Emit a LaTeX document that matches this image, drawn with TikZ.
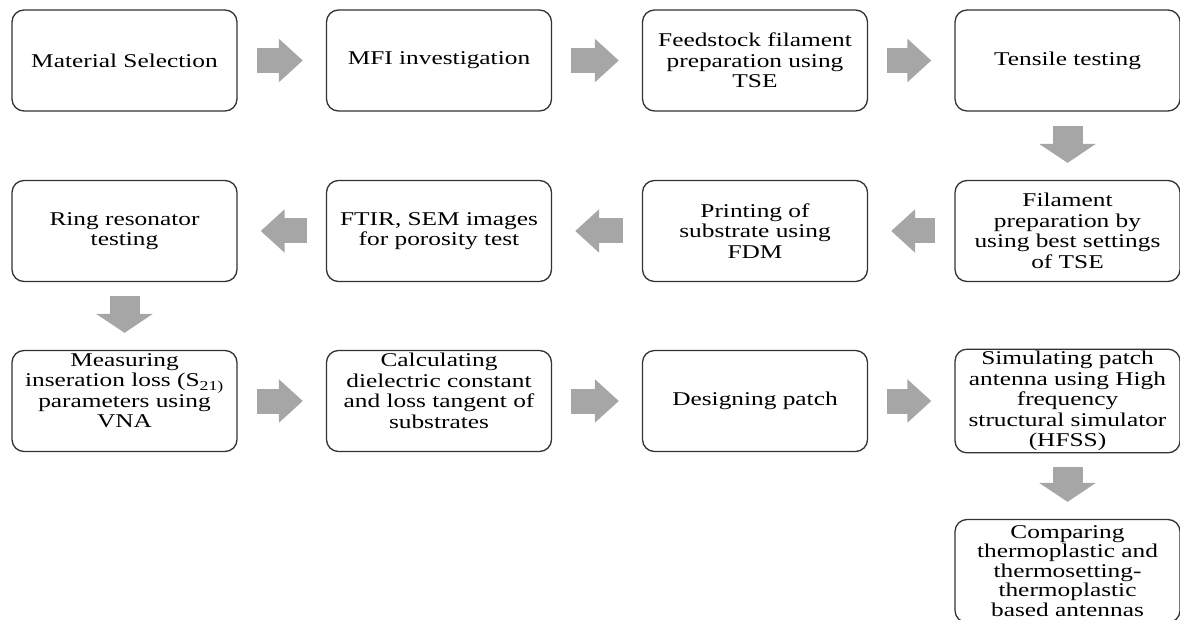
\documentclass[tikz,border=0pt]{standalone}
\usepackage{fontspec}
\setmainfont{Liberation Serif}[FakeStretch=1.3]
\usetikzlibrary{arrows.meta}
\definecolor{arrowgray}{HTML}{A6A6A6}
\definecolor{boxline}{HTML}{333333}
\tikzset{
  stepbox/.style={draw=boxline, line width=1.3pt, rounded corners=12pt, fill=white,
    minimum width=225pt, minimum height=101pt, align=center, inner sep=2pt,
    font=\fontsize{19.5}{20.5}\selectfont},
  hflow/.style={draw=arrowgray, line width=25pt, line cap=butt,
    -{Triangle[width=42pt,length=24pt]}, shorten <=19pt, shorten >=23pt},
  vflow/.style={draw=arrowgray, line width=30pt, line cap=butt,
    -{Triangle[width=56pt,length=19pt]}, shorten <=14pt, shorten >=17pt}
}
\begin{document}
\begin{tikzpicture}[x=1pt,y=-1pt]
\useasboundingbox (0,0) rectangle (1180,620);
% row 1
\node[stepbox] (b1) at (124.5,60.5) {Material Selection};
\node[stepbox] (b2) at (439,60.5) {MFI investigation};
\node[stepbox] (b3) at (755,60.5) {Feedstock filament\\preparation using\\TSE};
\node[stepbox] (b4) at (1067.5,60.5) {Tensile testing};
% row 2
\node[stepbox] (b5) at (1067.5,231) {Filament\\preparation by\\using best settings\\of TSE};
\node[stepbox] (b6) at (755,231) {Printing of\\substrate using\\FDM};
\node[stepbox] (b7) at (439,231) {FTIR, SEM images\\for porosity test};
\node[stepbox] (b8) at (124.5,231) {Ring resonator\\testing};
% row 3
\node[stepbox] (b9) at (124.5,401) {Measuring\\inseration loss (S\textsubscript{21)}\\parameters using\\VNA\\\mbox{}};
\node[stepbox] (b10) at (439,401) {Calculating\\dielectric constant\\and loss tangent of\\substrates\\\mbox{}};
\node[stepbox] (b11) at (755,401) {Designing patch};
\node[stepbox] (b12) at (1067.5,401) {Simulating patch\\antenna using High\\frequency\\structural simulator\\(HFSS)};
% row 4
\node[stepbox, minimum height=103pt, font=\fontsize{19.5}{19.5}\selectfont] (b13) at (1067.5,571) {Comparing\\thermoplastic and\\thermosetting-\\thermoplastic\\based antennas};
% connectors
\draw[hflow] (b1.east) -- (b2.west);
\draw[hflow] (b2.east) -- (b3.west);
\draw[hflow] (b3.east) -- (b4.west);
\draw[vflow] (b4.south) -- (b5.north);
\draw[hflow] (b5.west) -- (b6.east);
\draw[hflow] (b6.west) -- (b7.east);
\draw[hflow] (b7.west) -- (b8.east);
\draw[vflow] (b8.south) -- (b9.north);
\draw[hflow] (b9.east) -- (b10.west);
\draw[hflow] (b10.east) -- (b11.west);
\draw[hflow] (b11.east) -- (b12.west);
\draw[vflow] (b12.south) -- (b13.north);
\end{tikzpicture}
\end{document}
